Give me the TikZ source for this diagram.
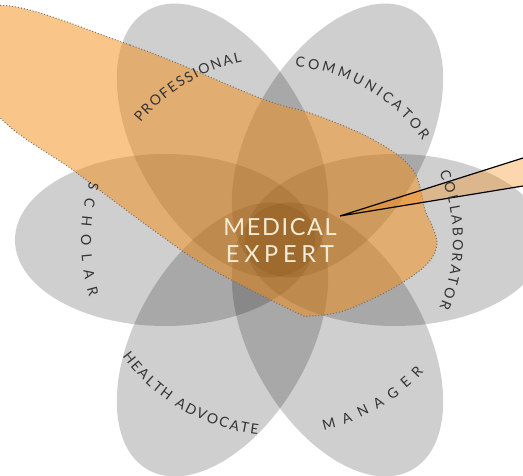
\documentclass[tikz,border=0pt]{standalone}
\usepackage{fontspec}
\usetikzlibrary{decorations.text}
\newfontfamily\petalfont[LetterSpace=2]{Lato}
\newfontfamily\medicalfont[LetterSpace=7]{Lato}
\newfontfamily\expertfont[LetterSpace=20]{Lato}
\newcommand\petalsize{\fontsize{14}{16}\selectfont}
\definecolor{blobcolor}{RGB}{245,140,20}
\definecolor{creamtext}{RGB}{245,236,214}
\tikzset{
    petal/.style = {fill=black, fill opacity=0.19},
    blob/.style = {fill=blobcolor, fill opacity=0.5, draw=black!55, dotted, line width=1pt},
    callout/.style = {fill=blobcolor, fill opacity=0.35},
    callout line/.style = {draw=black, line width=1.2pt},
    petal label/.style = {decorate, decoration={text along path, text align={fit to path}, text color=black!80, text={|\petalfont\petalsize|#1}}},
    center label/.style = {align=center, text=creamtext, font=\fontsize{23.5}{27}\selectfont, inner sep=0pt}
}

\begin{document}
\begin{tikzpicture}[x=1pt, y=1pt]
    \useasboundingbox (0,0) rectangle (523,476);
    \coordinate (center) at (280,236);

    \foreach \ang in {0,60,...,300}
        \fill[petal, shift={(center)}, rotate=\ang] (115,0) ellipse [x radius=150, y radius=86];

    \path[blob] plot[smooth cycle, tension=0.55] coordinates {
        (-8,469) (130,431) (260,378) (310,363) (360,343) (395,323) (413,306)
        (420,289) (425,266) (433,248) (437,233) (432,218) (418,204) (395,189)
        (370,176) (340,164) (310,160) (295,164) (213,206) (167,236) (77,303) (-8,370)};

    \coordinate (tip) at (340,260);
    \coordinate (upper end) at (523,318);
    \coordinate (lower end) at (523,290);
    \fill[callout] (tip) -- (upper end) -- (lower end) -- cycle;
    \draw[callout line] (upper end) -- (tip) -- (lower end);

    \path[petal label=PROFESSIONAL] (center) ++(140:182) arc[start angle=140, end angle=102, radius=182];
    \path[petal label=COMMUNICATOR] (center) ++(85:174) arc[start angle=85, end angle=35, radius=174];
    \path[petal label=COLLABORATOR] (center) ++(23:173) arc[start angle=23, end angle=-23, radius=173];
    \path[petal label=MANAGER] (center) ++(283:195) arc[start angle=283, end angle=317.5, radius=195];
    \path[petal label=HEALTH ADVOCATE] (center) ++(216.5:196) arc[start angle=216.5, end angle=263.5, radius=196];
    \path[petal label=SCHOLAR] (center) ++(163:199) arc[start angle=163, end angle=196.5, radius=199];

    \node[center label] (expert) at (center) {{\medicalfont MEDICAL}\\{\expertfont EXPERT}};
\end{tikzpicture}
\end{document}
